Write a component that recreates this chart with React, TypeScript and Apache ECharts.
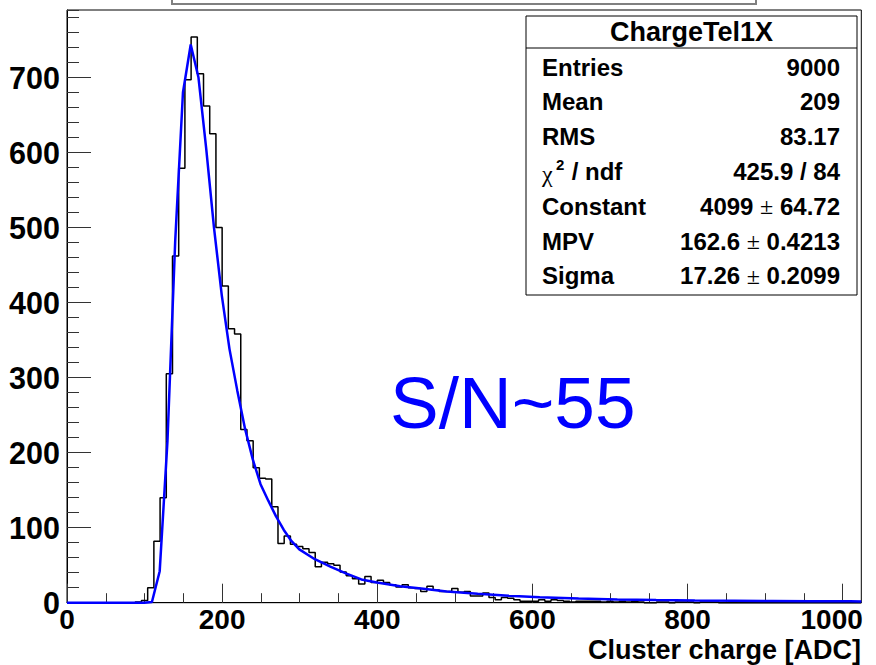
import React, { useEffect, useRef } from 'react';
import * as echarts from 'echarts';

// ---- Histogram (ChargeTel1X), 128 bins of width 8 over [0, 1024] ----
const X_MIN = 0;
const X_MAX = 1024;
const BIN_WIDTH = 8;
const Y_MAX = 790;

const binCounts = [
  0, 0, 0, 0, 0, 0, 0, 0, 0, 0,
  0, 1, 3, 20, 82, 140, 305, 462, 579, 697,
  754, 705, 662, 625, 500, 422, 365, 358, 231, 216,
  180, 166, 165, 128, 79, 89, 78, 75, 72, 67,
  48, 54, 52, 50, 41, 36, 32, 25, 35, 27,
  30, 27, 24, 21, 24, 20, 19, 15, 22, 17,
  15, 15, 19, 14, 15, 9, 9, 13, 7, 4,
  7, 6, 4, 2, 2, 2, 4, 2, 4, 3,
  2, 1, 2, 2, 2, 2, 1, 2, 1, 2,
  1, 2, 1, 0, 0, 1, 1, 0, 1, 1,
  1, 0, 1, 1, 1, 0, 0, 0, 0, 0,
  0, 0, 0, 0, 0, 0, 0, 0, 0, 0,
  0, 0, 0, 0, 0, 0, 0, 0,
];

// ---- Landau fit curve ----
const fitX = [0, 99.5, 109.5, 119.5, 129.5, 139.5, 149.5, 159.5, 169.5, 179.5, 189.5, 199.5, 209.5, 219.5, 229.5, 239.5, 249.5, 259.5, 269.5, 279.5, 289.5, 299.5, 319.5, 339.5, 359.5, 379.5, 399.5, 429.5, 459.5, 489.5, 529.5, 569.5, 609.5, 659.5, 709.5, 759.5, 809.5, 859.5, 909.5, 959.5, 1009.5, 1024];
const fitY = [0, 0, 1, 42, 215, 482, 680, 744, 700, 605, 500, 410, 338, 283, 232, 191, 158, 136, 115, 97, 82, 71, 58, 48, 39, 31, 27, 22, 18.5, 15, 11.8, 9.2, 7.4, 5.6, 4.4, 3.6, 3.0, 2.6, 2.3, 2.0, 1.8, 1.7];

// ---- Stats box ----
const statsTitle = 'ChargeTel1X';
const statsLabels = ['Entries', 'Mean', 'RMS', 'CHI2', 'Constant', 'MPV', 'Sigma'];
const statsValues = ['9000', '209', '83.17', '425.9 / 84', '4099 ± 64.72', '162.6 ± 0.4213', '17.26 ± 0.2099'];

const xAxisTitle = 'Cluster charge [ADC]';
const annotation = 'S/N~55';

const FONT = 'Liberation Sans';

function buildOption() {
  const histPoints: number[][] = binCounts.map((c, k) => [X_MIN + k * BIN_WIDTH, c]);
  histPoints.push([X_MAX, 0]);
  const fitPoints = fitX.map((x, i) => [x, fitY[i]]);

  const boxL = 526, boxR = 857, boxT = 16, boxB = 295, headerLine = 48;
  const rowY0 = 67, rowStep = 34.8;
  const labelX = 542, valueX = 840;

  const statsChildren: any[] = [
    { type: 'rect', shape: { x: boxL, y: boxT, width: boxR - boxL, height: boxB - boxT }, style: { fill: '#fff', stroke: '#000', lineWidth: 1 } },
    { type: 'line', shape: { x1: boxL, y1: headerLine, x2: boxR, y2: headerLine }, style: { stroke: '#000', lineWidth: 1 } },
    { type: 'text', x: (boxL + boxR) / 2, y: 32, style: { text: statsTitle, fontSize: 27, fontWeight: 'bold', fontFamily: FONT, fill: '#000', align: 'center', verticalAlign: 'middle', textAlign: 'center', textVerticalAlign: 'middle' } },
  ];
  statsLabels.forEach((lab, i) => {
    const y = rowY0 + i * rowStep;
    if (lab === 'CHI2') {
      statsChildren.push({ type: 'text', x: labelX, y: y + 3, style: { text: 'χ', fontSize: 24, fontFamily: 'Liberation Serif', fill: '#000', align: 'left', verticalAlign: 'middle', textAlign: 'left', textVerticalAlign: 'middle' } });
      statsChildren.push({ type: 'text', x: labelX + 14, y: y - 7, style: { text: '2', fontSize: 15, fontWeight: 'bold', fontFamily: FONT, fill: '#000', align: 'left', verticalAlign: 'middle', textAlign: 'left', textVerticalAlign: 'middle' } });
      statsChildren.push({ type: 'text', x: labelX + 23, y, style: { text: ' / ndf', fontSize: 24, fontWeight: 'bold', fontFamily: FONT, fill: '#000', align: 'left', verticalAlign: 'middle', textAlign: 'left', textVerticalAlign: 'middle' } });
    } else {
      statsChildren.push({ type: 'text', x: labelX, y, style: { text: lab, fontSize: 24, fontWeight: 'bold', fontFamily: FONT, fill: '#000', align: 'left', verticalAlign: 'middle', textAlign: 'left', textVerticalAlign: 'middle' } });
    }
    const v = statsValues[i];
    let text = v;
    if (v.includes('±')) {
      const [a, b] = v.split('±');
      text = `{b|${a}}{pm|±}{b|${b}}`;
    } else {
      text = `{b|${v}}`;
    }
    statsChildren.push({
      type: 'text', x: valueX, y,
      style: {
        text, fill: '#000', align: 'right', verticalAlign: 'middle', textAlign: 'right', textVerticalAlign: 'middle',
        fontSize: 24, fontWeight: 'bold', fontFamily: FONT,
        rich: {
          b: { fontSize: 24, fontWeight: 'bold', fontFamily: FONT, fill: '#000' },
          pm: { fontSize: 24, fontWeight: 'normal', fontFamily: 'Liberation Serif', fill: '#000' },
        },
      },
    });
  });

  const xLabel = (v: number) => (v === 1000 ? '{last|1000}' : '{n|' + String(v) + '}');
  const yLabel = (v: number) => String(v);
  const xLabelStyle = { fontSize: 28, fontWeight: 'bold', fontFamily: FONT, color: '#000' };

  return {
    animation: false,
    backgroundColor: '#fff',
    grid: { left: 67, right: 14.7, top: 10, bottom: 62.3, show: true, borderColor: '#000', borderWidth: 1, containLabel: false, outerBoundsMode: 'none' },
    xAxis: [
      {
        type: 'value', min: X_MIN, max: X_MAX, interval: 200, position: 'bottom',
        axisLine: { show: true, onZero: false, lineStyle: { color: '#000', width: 1 } },
        axisTick: { show: true, inside: true, length: 19, lineStyle: { color: '#333', width: 1 } },
        axisLabel: {
          show: true, margin: 3, fontSize: 28, fontWeight: 'bold', fontFamily: FONT, color: '#000', showMaxLabel: false,
          formatter: xLabel,
          rich: { n: { ...xLabelStyle }, last: { ...xLabelStyle, padding: [0, 22, 0, 0] } },
        },
        splitLine: { show: false },
      },
      {
        type: 'value', min: X_MIN, max: X_MAX, interval: 50, position: 'bottom',
        axisLine: { show: false, onZero: false },
        axisTick: { show: true, inside: true, length: 9.5, lineStyle: { color: '#333', width: 1 } },
        axisLabel: { show: false }, splitLine: { show: false },
      },
    ],
    yAxis: [
      {
        type: 'value', min: 0, max: Y_MAX, interval: 100, position: 'left',
        axisLine: { show: true, onZero: false, lineStyle: { color: '#000', width: 1 } },
        axisTick: { show: true, inside: true, length: 24, lineStyle: { color: '#333', width: 1 } },
        axisLabel: { show: true, margin: 7, fontSize: 30.5, fontWeight: 'bold', fontFamily: FONT, color: '#000', showMaxLabel: false, formatter: yLabel },
        splitLine: { show: false },
      },
      {
        type: 'value', min: 0, max: Y_MAX, interval: 20, position: 'left',
        axisLine: { show: false, onZero: false },
        axisTick: { show: true, inside: true, length: 12, lineStyle: { color: '#333', width: 1 } },
        axisLabel: { show: false }, splitLine: { show: false },
      },
    ],
    series: [
      {
        name: 'ChargeTel1X', type: 'line', xAxisIndex: 0, yAxisIndex: 0, data: histPoints, step: 'end',
        symbol: 'none', lineStyle: { color: '#000', width: 1.5 }, z: 2, clip: false,
      },
      {
        name: 'landau', type: 'line', xAxisIndex: 0, yAxisIndex: 0, data: fitPoints,
        symbol: 'none', smooth: false, lineStyle: { color: '#0000ff', width: 2.5 }, z: 3, clip: false,
      },
    ],
    graphic: [
      { type: 'rect', shape: { x: 172, y: -20, width: 584, height: 24 }, style: { fill: '#fff', stroke: '#808080', lineWidth: 2 }, z: 10 },
      { type: 'group', children: statsChildren, z: 10 },
      { type: 'text', x: 390, y: 402, style: { text: annotation, fontSize: 73, fontFamily: FONT, fill: '#0000ff', align: 'left', verticalAlign: 'middle', textAlign: 'left', textVerticalAlign: 'middle' }, z: 10 },
      { type: 'text', x: 861, y: 650, style: { text: xAxisTitle, fontSize: 27, fontWeight: 'bold', fontFamily: FONT, fill: '#000', align: 'right', verticalAlign: 'middle', textAlign: 'right', textVerticalAlign: 'middle' }, z: 10 },
    ],
  };
}

export default function App() {
  const ref = useRef<HTMLDivElement>(null);
  useEffect(() => {
    document.body.style.margin = '0';
    const chart = echarts.init(ref.current!, null, { renderer: 'svg' });
    chart.setOption(buildOption() as any);
    return () => chart.dispose();
  }, []);
  return <div ref={ref} style={{ position: 'fixed', left: 0, top: 0, width: 876, height: 665, background: '#fff' }} />;
}
